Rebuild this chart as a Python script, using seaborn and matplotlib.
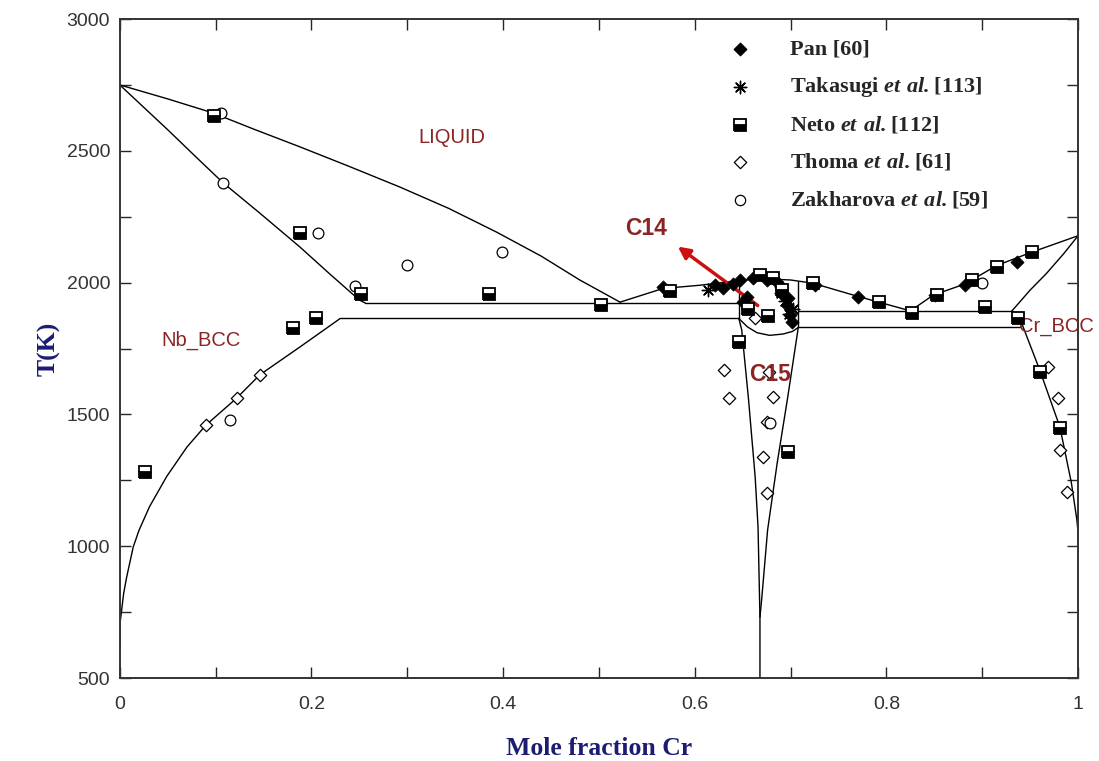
# Diagrama de fases Nb-Cr calculado con datos experimentales
import matplotlib
matplotlib.use("Agg")
import matplotlib.pyplot as plt
import seaborn as sns

# -------------------------------------------------------------
# DATOS
# -------------------------------------------------------------

# Líneas del diagrama: (x Cr, T en K)
liq_nb_x = [0.0, 0.05, 0.097, 0.14, 0.188, 0.24, 0.292, 0.343, 0.393, 0.44, 0.48, 0.522]
liq_nb_T = [2750, 2697, 2644, 2582, 2515, 2440, 2363, 2282, 2192, 2100, 2010, 1926]

sol_nb_x = [0.0, 0.025, 0.05, 0.08, 0.108, 0.146, 0.188, 0.22, 0.25, 0.256]
sol_nb_T = [2750, 2665, 2580, 2475, 2378, 2264, 2135, 2030, 1934, 1923]

solvus_nb_x = [0.23, 0.188, 0.146, 0.122, 0.09, 0.07, 0.049, 0.031, 0.02, 0.014,
               0.007, 0.004, 0.002, 0.0, 0.0]
solvus_nb_T = [1864, 1756, 1650, 1562, 1460, 1376, 1265, 1150, 1060, 997,
               880, 820, 760, 700, 620]

liq_c14_x = [0.522, 0.567, 0.605, 0.647, 0.67, 0.70, 0.723, 0.77, 0.792, 0.825]
liq_c14_T = [1926, 1978, 1990, 2008, 2015, 2010, 1998, 1948, 1926, 1893]

liq_cr_x = [0.825, 0.849, 0.882, 0.915, 0.952, 1.0]
liq_cr_T = [1893, 1953, 1995, 2065, 2116, 2178]

sol_cr_x = [1.0, 0.985, 0.967, 0.95, 0.931]
sol_cr_T = [2178, 2110, 2035, 1972, 1893]

solvus_cr_x = [0.931, 0.939, 0.960, 0.981, 0.993, 0.9987, 1.0, 1.0]
solvus_cr_T = [1893, 1866, 1668, 1452, 1240, 1100, 1050, 1000]

c14_izq_x = [0.646, 0.646]
c14_izq_T = [1864, 2005]
c14_der_x = [0.708, 0.708]
c14_der_T = [1830, 2008]

c15_top_x = [0.646, 0.655, 0.665, 0.678, 0.692, 0.702, 0.708]
c15_top_T = [1864, 1832, 1810, 1800, 1805, 1815, 1830]

c15_izq_x = [0.646, 0.649, 0.656, 0.663, 0.666, 0.668, 0.668]
c15_izq_T = [1864, 1820, 1560, 1263, 1073, 731, 500]

c15_der_x = [0.708, 0.697, 0.686, 0.676, 0.670, 0.668]
c15_der_T = [1830, 1566, 1316, 1062, 807, 731]

# Líneas horizontales invariantes
hor_x = [[0.256, 0.646], [0.23, 0.646], [0.708, 0.931], [0.708, 0.939]]
hor_T = [1923, 1864, 1892, 1830]

# Datos experimentales
pan_x = [0.567, 0.621, 0.629, 0.647, 0.661, 0.675, 0.686, 0.692, 0.696, 0.699,
         0.701, 0.697, 0.65, 0.654, 0.725, 0.770, 0.851, 0.882, 0.936, 0.64, 0.69]
pan_T = [1983, 1991, 1979, 2010, 2017, 2010, 2002, 1953, 1915, 1877,
         1850, 1941, 1926, 1945, 1991, 1946, 1953, 1991, 2078, 1995, 1985]

takasugi_x = [0.614, 0.698, 0.694, 0.702, 0.690]
takasugi_T = [1972, 1880, 1930, 1900, 1960]

neto_x = [0.026, 0.098, 0.188, 0.181, 0.205, 0.252, 0.385, 0.502, 0.574, 0.656,
          0.646, 0.676, 0.697, 0.668, 0.682, 0.691, 0.723, 0.792, 0.827, 0.853,
          0.889, 0.903, 0.915, 0.952, 0.937, 0.960, 0.981]
neto_T = [1283, 2632, 2188, 1828, 1866, 1957, 1957, 1915, 1968, 1900,
          1775, 1873, 1357, 2029, 2017, 1972, 1998, 1926, 1885, 1953,
          2010, 1907, 2060, 2116, 1866, 1661, 1448]

thoma_x = [0.090, 0.122, 0.146, 0.630, 0.636, 0.677, 0.682, 0.675, 0.671, 0.675,
           0.663, 0.969, 0.979, 0.981, 0.988]
thoma_T = [1460, 1562, 1650, 1668, 1562, 1661, 1566, 1471, 1338, 1202,
           1866, 1680, 1562, 1365, 1206]

zakharova_x = [0.106, 0.108, 0.207, 0.245, 0.300, 0.399, 0.115, 0.678, 0.900]
zakharova_T = [2643, 2378, 2188, 1987, 2067, 2116, 1479, 1467, 1998]

# Etiquetas de fase
fases = ["LIQUID", "Nb_BCC", "Cr_BCC"]
fases_x = [0.347, 0.085, 0.977]
fases_T = [2552, 1782, 1832]

leyenda = ["Pan [60]",
           r"Takasugi $\mathbfit{et\ al.}$[113]",
           r"Neto $\mathbfit{et\ al.}$[112]",
           r"Thoma $\mathbfit{et\ al.}$[61]",
           r"Zakharova $\mathbfit{et\ al.}$[59]"]

# -------------------------------------------------------------
# ESTILO
# -------------------------------------------------------------

sns.set_style("ticks")
plt.rcParams["font.family"] = ["Liberation Sans", "DejaVu Sans"]
plt.rcParams["mathtext.fontset"] = "custom"
plt.rcParams["mathtext.rm"] = "Liberation Serif:bold"
plt.rcParams["mathtext.bfit"] = "Liberation Serif:italic:bold"

ROJO_FASE = "#8B2525"
AZUL_EJE = "#1C1C74"

fig, ax = plt.subplots(figsize=(10.99, 7.61), dpi=100)
fig.subplots_adjust(left=0.109, right=0.981, top=0.975, bottom=0.109)

# Líneas de fase
curvas = [(liq_nb_x, liq_nb_T), (sol_nb_x, sol_nb_T), (solvus_nb_x, solvus_nb_T),
          (liq_c14_x, liq_c14_T), (liq_cr_x, liq_cr_T), (sol_cr_x, sol_cr_T),
          (solvus_cr_x, solvus_cr_T), (c14_izq_x, c14_izq_T), (c14_der_x, c14_der_T),
          (c15_top_x, c15_top_T), (c15_izq_x, c15_izq_T), (c15_der_x, c15_der_T)]
for xs, ts in zip(hor_x, hor_T):
    curvas.append((xs, [ts, ts]))

for xs, ts in curvas:
    sns.lineplot(x=xs, y=ts, ax=ax, color="black", lw=1.0, sort=False,
                 estimator=None, legend=False)

# Puntos experimentales
sns.scatterplot(x=thoma_x, y=thoma_T, ax=ax, marker="D", s=40,
                facecolor="white", edgecolor="black", linewidth=0.9, zorder=3)
sns.scatterplot(x=zakharova_x, y=zakharova_T, ax=ax, marker="o", s=60,
                facecolor="white", edgecolor="black", linewidth=0.9, zorder=3)
sns.scatterplot(x=pan_x, y=pan_T, ax=ax, marker="D", s=45,
                color="black", edgecolor="black", zorder=4)
sns.scatterplot(x=takasugi_x, y=takasugi_T, ax=ax, marker=(8, 2, 0), s=80,
                color="black", linewidth=1.0, zorder=4)
ax.plot(neto_x, neto_T, ls="none", marker="s", ms=8, fillstyle="bottom",
        markerfacecolor="black", markerfacecoloralt="white",
        markeredgecolor="black", markeredgewidth=1.3, zorder=5)

# Etiquetas
for nombre, xs, ts in zip(fases, fases_x, fases_T):
    ax.text(xs, ts, nombre, color=ROJO_FASE, fontsize=14.5, ha="center", va="center")
ax.text(0.678, 1653, "C15", color=ROJO_FASE, fontsize=16.5, fontweight="bold",
        ha="center", va="center")
ax.text(0.549, 2207, "C14", color=ROJO_FASE, fontsize=16.5, fontweight="bold",
        ha="center", va="center")
ax.annotate("", xy=(0.580, 2143), xytext=(0.668, 1907),
            arrowprops=dict(arrowstyle="-|>,head_width=0.35,head_length=0.7",
                            color="#CC1010", lw=2.5))

# Leyenda manual
ley_y = [0.954, 0.897, 0.839, 0.783, 0.725]
estilos = [dict(marker="D", s=40, color="black"),
           dict(marker=(8, 2, 0), s=80, color="black", linewidth=1.0),
           None,
           dict(marker="D", s=40, facecolor="white", edgecolor="black", linewidth=0.9),
           dict(marker="o", s=55, facecolor="white", edgecolor="black", linewidth=0.9)]
for texto, yy, est in zip(leyenda, ley_y, estilos):
    if est is None:
        ax.plot([0.647], [yy], transform=ax.transAxes, ls="none", marker="s", ms=8,
                fillstyle="bottom", markerfacecolor="black", markerfacecoloralt="white",
                markeredgecolor="black", markeredgewidth=1.3)
    else:
        ax.scatter([0.647], [yy], transform=ax.transAxes, **est)
    ax.text(0.699, yy, texto, transform=ax.transAxes, fontsize=16,
            family="Liberation Serif", fontweight="bold", va="center", ha="left")

# Ejes
ax.set_xlim(0, 1)
ax.set_ylim(500, 3000)
ax.set_xticks([0, 0.2, 0.4, 0.6, 0.8, 1.0])
ax.set_xticklabels(["0", "0.2", "0.4", "0.6", "0.8", "1"])
ax.set_xticks([0.1, 0.3, 0.5, 0.7, 0.9], minor=True)
ax.set_yticks([500, 1000, 1500, 2000, 2500, 3000])
ax.set_yticks([750, 1250, 1750, 2250, 2750], minor=True)
ax.tick_params(which="both", direction="in", length=8, width=1.0,
               top=True, right=True, labelsize=14, labelcolor="#333333")
ax.tick_params(axis="x", pad=13)
ax.tick_params(axis="y", pad=7)
for lado in ax.spines.values():
    lado.set_linewidth(1.4)
    lado.set_color("#333333")

ax.set_xlabel("Mole fraction Cr", family="Liberation Serif", fontweight="bold",
              fontsize=18.5, color=AZUL_EJE, labelpad=17)
ax.set_ylabel("T(K)", family="Liberation Serif", fontweight="bold",
              fontsize=18.5, color=AZUL_EJE, labelpad=4)

plt.savefig("out.png", dpi=100)
plt.close()
